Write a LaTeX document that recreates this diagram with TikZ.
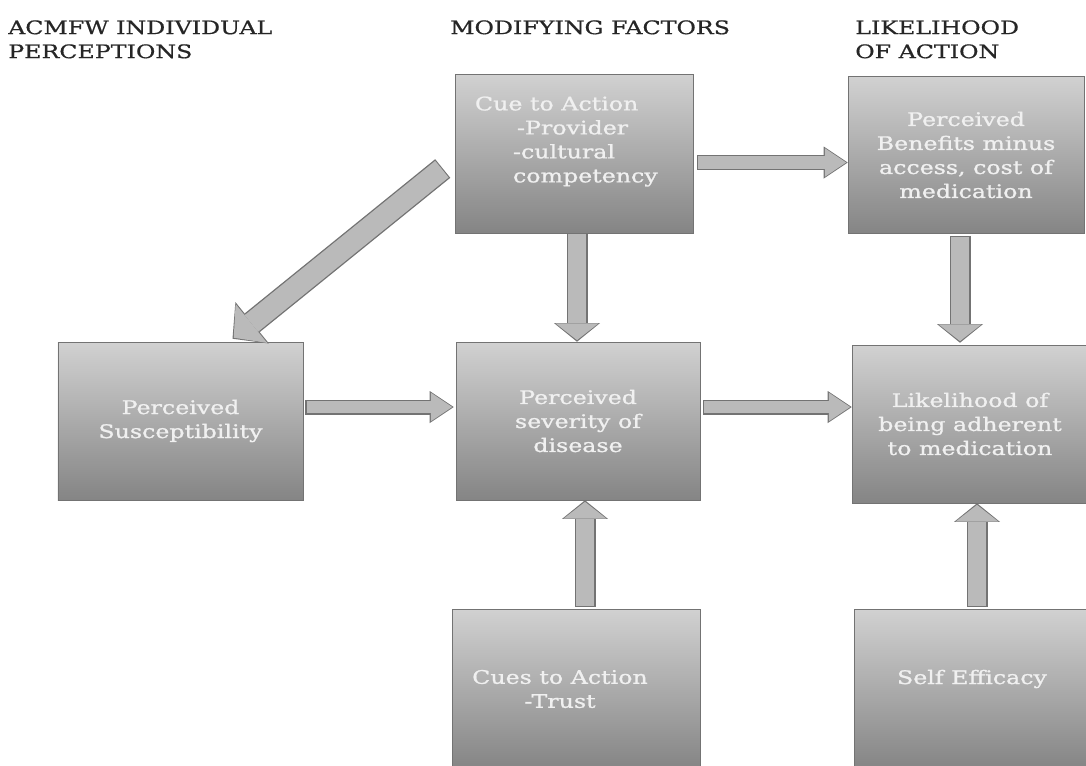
\documentclass[tikz,border=0pt]{standalone}
\usepackage{fontspec}
\setmainfont{DejaVu Serif}
\newfontfamily\slabfont[FakeStretch=1.27,FakeBold=1.1]{DejaVu Serif}
\newfontfamily\headfont[FakeStretch=1.27,FakeBold=0.7]{DejaVu Serif}
\usetikzlibrary{arrows.meta}

\tikzset{
  box/.style={draw=black!55, top color=black!18, bottom color=black!48,
    text=white!94!black, align=center, font=\slabfont\fontsize{14}{18}\selectfont,
    minimum width=177pt, minimum height=119pt, inner sep=0pt},
  boxtext/.style={text=white!94!black, inner sep=0pt,
    font=\slabfont\fontsize{14}{18}\selectfont},
  head/.style={anchor=north west, align=left, inner sep=0pt, text=black!85,
    font=\headfont\fontsize{14}{18}\selectfont},
  % thin flat arrows
  hflow/.style={draw=black!27, line width=9.5pt, shorten >=1.2pt, shorten <=0.8pt,
    -{Triangle[width=21.5pt,length=16pt,line width=0pt]},
    preaction={draw=black!55, line width=11.25pt, shorten >=0pt, shorten <=0pt,
      -{Triangle[width=24pt,length=18pt,line width=0pt]}}},
  % upright arrows
  vflow/.style={draw=black!27, line width=14pt, shorten >=1.2pt, shorten <=0.8pt,
    -{Triangle[width=32pt,length=12.5pt,line width=0pt]},
    preaction={draw=black!55, line width=15.75pt, shorten >=0pt, shorten <=0pt,
      -{Triangle[width=34.5pt,length=14pt,line width=0pt]}}},
  % slanted arrow
  dflow/.style={draw=black!27, line width=16pt, shorten >=1.2pt, shorten <=0.8pt,
    -{Triangle[width=37.5pt,length=17pt,line width=0pt]},
    preaction={draw=black!55, line width=18pt, shorten >=0pt, shorten <=0pt,
      -{Triangle[width=40pt,length=19pt,line width=0pt]}}}
}

\begin{document}
\begin{tikzpicture}[x=0.75pt, y=-0.75pt]
\useasboundingbox (0,0) rectangle (1086,765);
\clip (0,0) rectangle (1086,765);

% column heads
\node [head] (h1) at (8,20) {ACMFW INDIVIDUAL\\PERCEPTIONS};
\node [head] (h2) at (450,20) {MODIFYING FACTORS};
\node [head] (h3) at (855,20) {LIKELIHOOD\\OF ACTION};

% boxes
\node [box, minimum width=178.5pt] (cue) at (574,153.5) {};
\node [boxtext, align=left] (cuetext) at ([xshift=15pt,yshift=9pt]cue.west) [anchor=west]
  {Cue to Action\\ \hspace*{31.5pt}-Provider\\ \hspace*{28.5pt}-cultural\\ \hspace*{28.5pt}competency};
\node [box, minimum height=117.75pt] (benefit) at (966,155)
  {Perceived\\Benefits minus\\access, cost of\\medication};
\node [box, minimum width=184pt, minimum height=118.5pt] (suscept) at (180.5,421)
  {Perceived\\Susceptibility};
\node [box, minimum width=183pt, minimum height=118.5pt] (severity) at (578,421)
  {Perceived\\severity of\\disease};
\node [box, minimum height=118.5pt] (likely) at (970,424)
  {Likelihood of\\being adherent\\to medication};
\node [box, minimum width=186pt, minimum height=120pt] (trust) at (576,689) {};
\node [boxtext, align=center] (trusttext) at ([xshift=-12pt]trust.center)
  {Cues to Action\\-Trust};
\node [box, minimum height=120pt] (selfeff) at (972,689)
  {\raisebox{3.75pt}[0pt][0pt]{Self Efficacy}};

% arrows
\draw [hflow] ([xshift=3pt,yshift=-6.75pt]cue.east) -- ([yshift=-6.75pt]benefit.west |- cue.east);
\draw [dflow] ([shift={(-12,15)}]cue.west) -- ([shift={(52,-3)}]suscept.north);
\draw [vflow] ([xshift=2.25pt]cue.south) -- ([xshift=2.25pt]cue.south |- severity.north);
\draw [vflow] ([xshift=-4.5pt,yshift=-1.5pt]benefit.south) -- ([xshift=-4.5pt,yshift=1.5pt]benefit.south |- likely.north);
\draw [hflow] ([xshift=1.5pt,yshift=10.5pt]suscept.east) -- ([xshift=-1.5pt,yshift=10.5pt]severity.west);
\draw [hflow] ([xshift=2.25pt,yshift=10.5pt]severity.east) -- ([yshift=12.75pt]likely.west);
\draw [vflow] ([xshift=6.75pt,yshift=1.5pt]trust.north) -- ([xshift=6.75pt]trust.north |- severity.south);
\draw [vflow] ([xshift=3.75pt,yshift=1.5pt]selfeff.north) -- ([xshift=3.75pt]selfeff.north |- likely.south);
\end{tikzpicture}
\end{document}
